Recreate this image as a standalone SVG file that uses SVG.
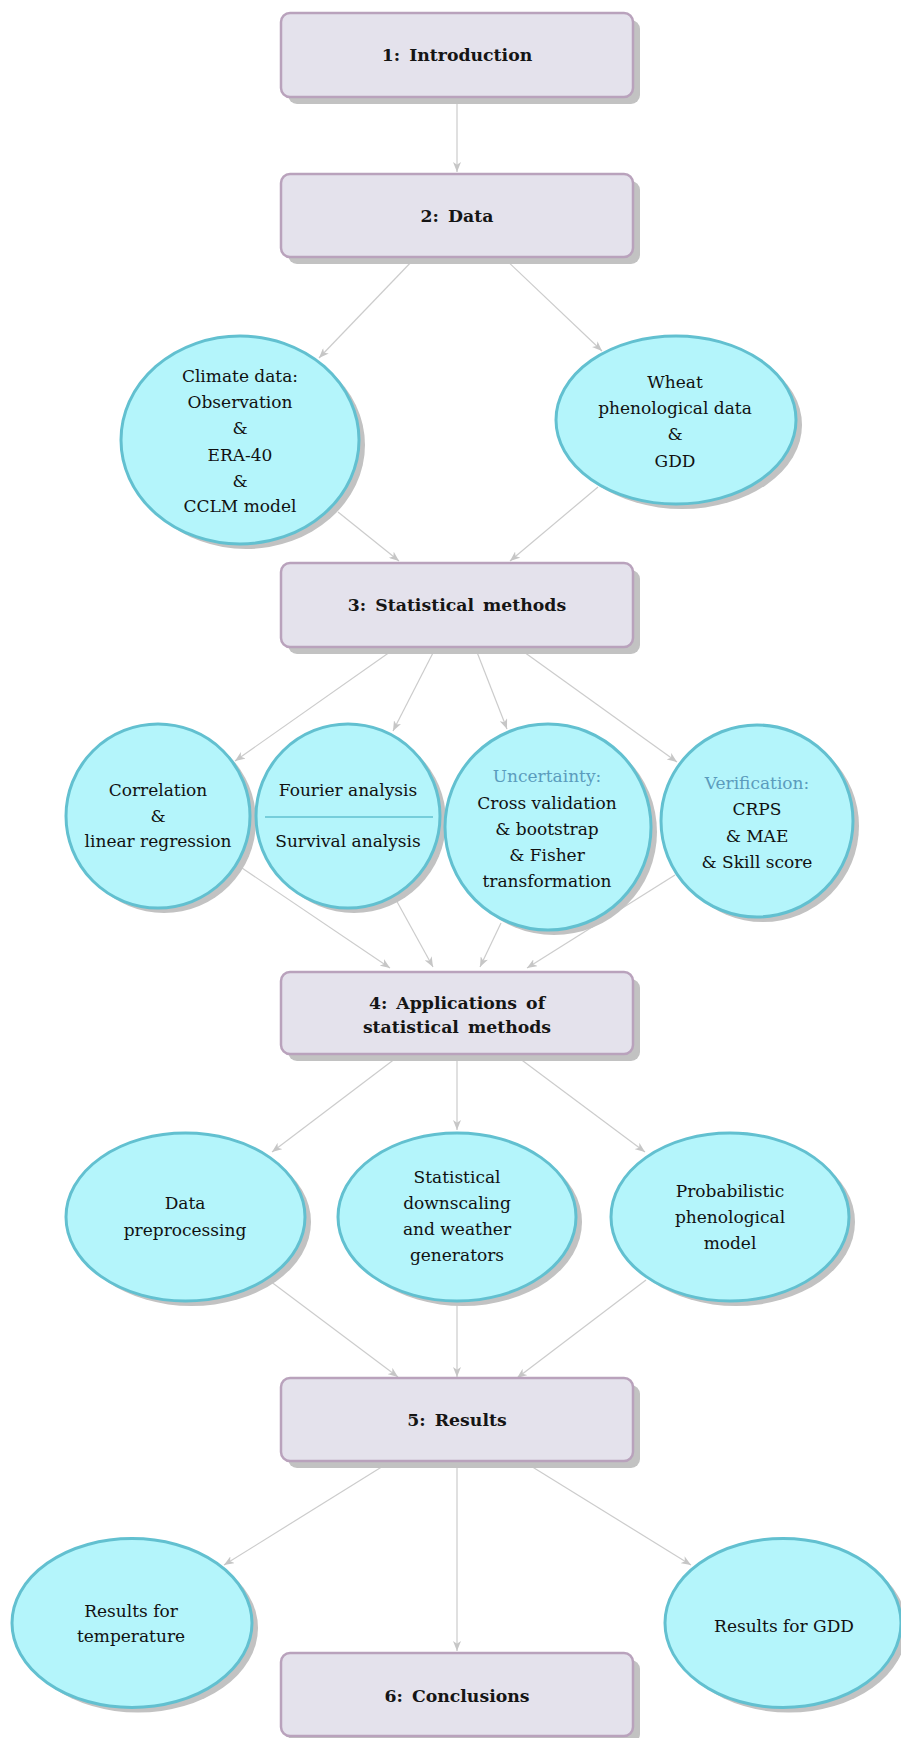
<svg xmlns="http://www.w3.org/2000/svg" width="901" height="1738" viewBox="0 0 901 1738">
  <defs>
    <marker id="arr" viewBox="0 0 10 8" refX="10" refY="4" markerWidth="10" markerHeight="8" markerUnits="userSpaceOnUse" orient="auto">
      <path d="M0,0 L10,4 L0,8 L2.8,4 z" fill="#c6c6c6"/>
    </marker>
  </defs>
  <style>
    .edge { stroke: #cccccc; stroke-width: 1.2; fill: none; marker-end: url(#arr); }
    .box { fill: #e4e2ec; stroke: #b9a2bc; stroke-width: 2.5; }
    .bshadow { fill: #c2c2c2; }
    .node { fill: #b4f5fb; stroke: #62c0d0; stroke-width: 3; }
    .nshadow { fill: #c2c2c2; }
    .title { font-family: "DejaVu Serif", "Liberation Serif", serif; font-weight: bold; font-size: 17.3px; fill: #151515; text-anchor: middle; word-spacing: 3px; }
    .lbl { font-family: "DejaVu Serif", "Liberation Serif", serif; font-size: 17px; fill: #111111; text-anchor: middle; }
    .head { fill: #5b9cbd; }
    .divider { stroke: #62c0d0; stroke-width: 1.5; }
  </style>

  <!-- connectors -->
  <g id="connectors">
    <line class="edge" x1="457" y1="98" x2="457" y2="172"/>
    <line class="edge" x1="415" y1="258" x2="319" y2="358"/>
    <line class="edge" x1="504" y1="258" x2="602" y2="351"/>
    <line class="edge" x1="338" y1="512" x2="399" y2="561"/>
    <line class="edge" x1="598" y1="487" x2="510" y2="561"/>
    <line class="edge" x1="397" y1="647" x2="235" y2="761"/>
    <line class="edge" x1="436" y1="647" x2="393" y2="731"/>
    <line class="edge" x1="475" y1="647" x2="507" y2="729"/>
    <line class="edge" x1="517" y1="647" x2="677" y2="762"/>
    <line class="edge" x1="242" y1="868" x2="390" y2="968"/>
    <line class="edge" x1="395" y1="898" x2="433" y2="967"/>
    <line class="edge" x1="501" y1="923" x2="480" y2="967"/>
    <line class="edge" x1="675" y1="875" x2="527" y2="968"/>
    <line class="edge" x1="400" y1="1055" x2="272" y2="1152"/>
    <line class="edge" x1="457" y1="1055" x2="457" y2="1130"/>
    <line class="edge" x1="515" y1="1055" x2="645" y2="1152"/>
    <line class="edge" x1="270" y1="1281" x2="398" y2="1377"/>
    <line class="edge" x1="457" y1="1302" x2="457" y2="1377"/>
    <line class="edge" x1="646" y1="1280" x2="517" y2="1378"/>
    <line class="edge" x1="388" y1="1463" x2="224" y2="1565"/>
    <line class="edge" x1="457" y1="1463" x2="457" y2="1651"/>
    <line class="edge" x1="526" y1="1463" x2="691" y2="1565"/>
  </g>

  <!-- chapter boxes -->
  <g id="intro">
    <rect class="bshadow" x="288" y="20" width="352" height="84" rx="9"/>
    <rect class="box" x="281" y="13" width="352" height="84" rx="9"/>
    <text class="title" x="457" y="61">1: Introduction</text>
  </g>
  <g id="data">
    <rect class="bshadow" x="288" y="181" width="352" height="83" rx="9"/>
    <rect class="box" x="281" y="174" width="352" height="83" rx="9"/>
    <text class="title" x="457" y="222">2: Data</text>
  </g>
  <g id="methods">
    <rect class="bshadow" x="288" y="570" width="352" height="84" rx="9"/>
    <rect class="box" x="281" y="563" width="352" height="84" rx="9"/>
    <text class="title" x="457" y="611">3: Statistical methods</text>
  </g>
  <g id="applications">
    <rect class="bshadow" x="288" y="979" width="352" height="82" rx="9"/>
    <rect class="box" x="281" y="972" width="352" height="82" rx="9"/>
    <text class="title" x="457" y="1009">4: Applications of</text>
    <text class="title" x="457" y="1033">statistical methods</text>
  </g>
  <g id="results">
    <rect class="bshadow" x="288" y="1385" width="352" height="83" rx="9"/>
    <rect class="box" x="281" y="1378" width="352" height="83" rx="9"/>
    <text class="title" x="457" y="1426">5: Results</text>
  </g>
  <g id="conclusions">
    <rect class="bshadow" x="288" y="1660" width="352" height="83" rx="9"/>
    <rect class="box" x="281" y="1653" width="352" height="83" rx="9"/>
    <text class="title" x="457" y="1702">6: Conclusions</text>
  </g>

  <!-- data sources -->
  <g id="climate-data">
    <ellipse class="nshadow" cx="246" cy="445" rx="119" ry="104"/>
    <ellipse class="node" cx="240" cy="440" rx="119" ry="104"/>
    <text class="lbl" x="240" y="382">Climate data:</text>
    <text class="lbl" x="240" y="408">Observation</text>
    <text class="lbl" x="240" y="434">&amp;</text>
    <text class="lbl" x="240" y="461">ERA-40</text>
    <text class="lbl" x="240" y="487">&amp;</text>
    <text class="lbl" x="240" y="512">CCLM model</text>
  </g>
  <g id="wheat-data">
    <ellipse class="nshadow" cx="682" cy="425" rx="120" ry="84"/>
    <ellipse class="node" cx="676" cy="420" rx="120" ry="84"/>
    <text class="lbl" x="675" y="388">Wheat</text>
    <text class="lbl" x="675" y="414">phenological data</text>
    <text class="lbl" x="675" y="440">&amp;</text>
    <text class="lbl" x="675" y="467">GDD</text>
  </g>

  <!-- methods -->
  <g id="correlation">
    <circle class="nshadow" cx="164" cy="821" r="92"/>
    <circle class="node" cx="158" cy="816" r="92"/>
    <text class="lbl" x="158" y="796">Correlation</text>
    <text class="lbl" x="158" y="822">&amp;</text>
    <text class="lbl" x="158" y="847">linear regression</text>
  </g>
  <g id="fourier-survival">
    <circle class="nshadow" cx="354" cy="821" r="92"/>
    <circle class="node" cx="348" cy="816" r="92"/>
    <text class="lbl" x="348" y="796">Fourier analysis</text>
    <line class="divider" x1="265" y1="817" x2="433" y2="817"/>
    <text class="lbl" x="348" y="847">Survival analysis</text>
  </g>
  <g id="uncertainty">
    <circle class="nshadow" cx="554" cy="832" r="103"/>
    <circle class="node" cx="548" cy="827" r="103"/>
    <text class="lbl head" x="547" y="782">Uncertainty:</text>
    <text class="lbl" x="547" y="809">Cross validation</text>
    <text class="lbl" x="547" y="835">&amp; bootstrap</text>
    <text class="lbl" x="547" y="861">&amp; Fisher</text>
    <text class="lbl" x="547" y="887">transformation</text>
  </g>
  <g id="verification">
    <circle class="nshadow" cx="763" cy="826" r="96"/>
    <circle class="node" cx="757" cy="821" r="96"/>
    <text class="lbl head" x="757" y="789">Verification:</text>
    <text class="lbl" x="757" y="815">CRPS</text>
    <text class="lbl" x="757" y="842">&amp; MAE</text>
    <text class="lbl" x="757" y="868">&amp; Skill score</text>
  </g>

  <!-- applications -->
  <g id="preprocessing">
    <ellipse class="nshadow" cx="191.5" cy="1222" rx="119.5" ry="84"/>
    <ellipse class="node" cx="185.5" cy="1217" rx="119.5" ry="84"/>
    <text class="lbl" x="185" y="1209">Data</text>
    <text class="lbl" x="185" y="1236">preprocessing</text>
  </g>
  <g id="downscaling">
    <ellipse class="nshadow" cx="463" cy="1222" rx="119" ry="84"/>
    <ellipse class="node" cx="457" cy="1217" rx="119" ry="84"/>
    <text class="lbl" x="457" y="1183">Statistical</text>
    <text class="lbl" x="457" y="1209">downscaling</text>
    <text class="lbl" x="457" y="1235">and weather</text>
    <text class="lbl" x="457" y="1261">generators</text>
  </g>
  <g id="phenological-model">
    <ellipse class="nshadow" cx="736" cy="1222" rx="119" ry="84"/>
    <ellipse class="node" cx="730" cy="1217" rx="119" ry="84"/>
    <text class="lbl" x="730" y="1197">Probabilistic</text>
    <text class="lbl" x="730" y="1223">phenological</text>
    <text class="lbl" x="730" y="1249">model</text>
  </g>

  <!-- results -->
  <g id="results-temperature">
    <ellipse class="nshadow" cx="138" cy="1628" rx="120" ry="84.5"/>
    <ellipse class="node" cx="132" cy="1623" rx="120" ry="84.5"/>
    <text class="lbl" x="131" y="1617">Results for</text>
    <text class="lbl" x="131" y="1642">temperature</text>
  </g>
  <g id="results-gdd">
    <ellipse class="nshadow" cx="789" cy="1628" rx="118" ry="84.5"/>
    <ellipse class="node" cx="783" cy="1623" rx="118" ry="84.5"/>
    <text class="lbl" x="784" y="1632">Results for GDD</text>
  </g>
</svg>
